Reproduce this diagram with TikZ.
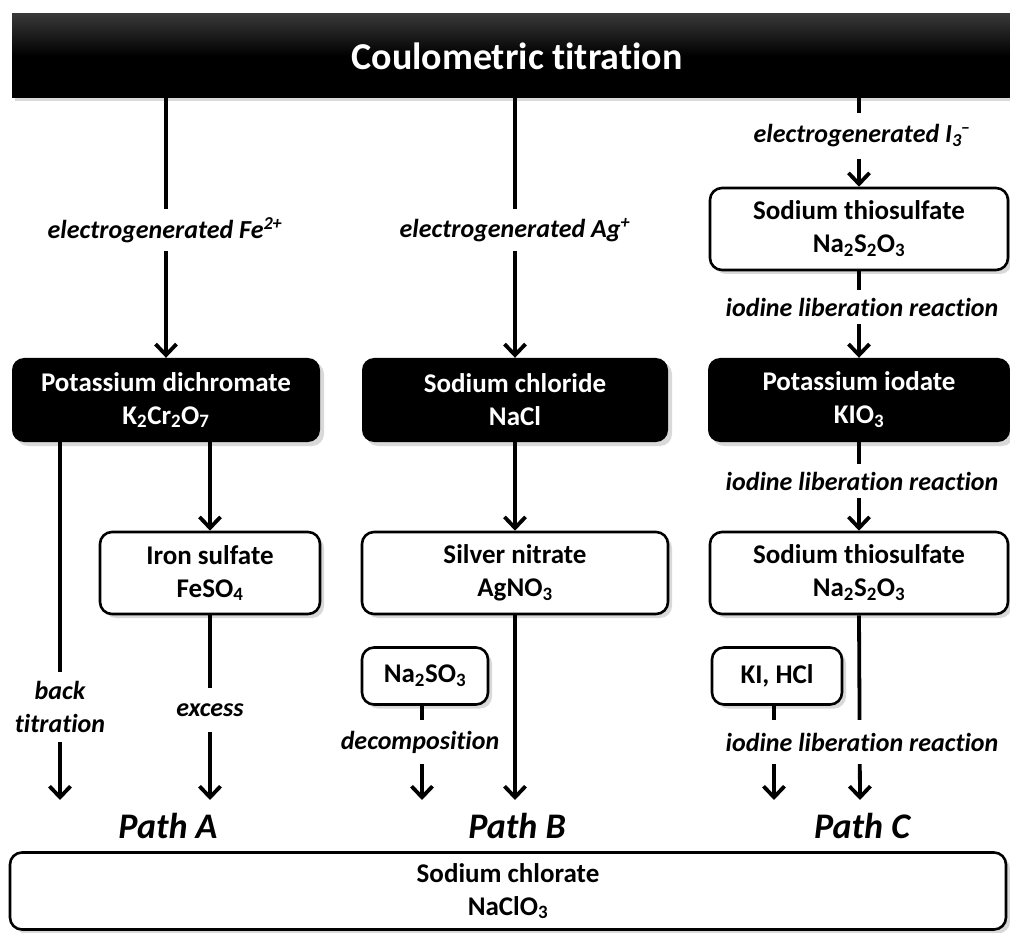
\documentclass[tikz,border=0pt]{standalone}
\usepackage{fontspec}
\setmainfont{Carlito}[Ligatures={NoCommon}]
\usepackage{tikz}
\usetikzlibrary{positioning, shapes, arrows.meta, shadows, calc}

\newcommand{\boxfont}{\fontsize{27}{33}\selectfont\bfseries}
\newcommand{\lblfont}{\fontsize{26}{33}\selectfont\bfseries\itshape}

\begin{document}
\begin{tikzpicture}[x=1pt, y=-1pt,
  darkbox/.style={rectangle, rounded corners=12pt, fill=black, text=white, inner sep=0pt, align=center, font=\boxfont, drop shadow={shadow xshift=4pt, shadow yshift=-4pt, opacity=0.3}},
  whitebox/.style={rectangle, rounded corners=12pt, draw=black, line width=2.6pt, fill=white, inner sep=0pt, align=center, font=\boxfont, drop shadow={shadow xshift=4pt, shadow yshift=-4pt, opacity=0.3}},
  arrow/.style={-{Straight Barb[length=11pt, width=21pt, line width=3.8pt]}, line width=3.8pt, black},
  lbl/.style={fill=white, inner sep=2pt, minimum height=42pt, align=center, font=\lblfont},
  pathlbl/.style={font=\fontsize{36}{40}\selectfont\bfseries\itshape}
]
\useasboundingbox (0,0) rectangle (1010,933);

% Title bar
\node[rectangle, inner sep=0pt, minimum width=1010pt, minimum height=84pt, top color=black!78, bottom color=black, middle color=black, text=white,
  font=\fontsize{38}{44}\selectfont\bfseries, drop shadow={shadow xshift=3pt, shadow yshift=-3pt, opacity=0.3}] (title) at (517,56) {Coulometric titration};

% Path A
\node[darkbox, minimum width=308pt, minimum height=84pt] (dichromate) at (166,400) {Potassium dichromate\\K\textsubscript{2}Cr\textsubscript{2}O\textsubscript{7}};
\node[whitebox, minimum width=220pt, minimum height=82pt] (iron) at (210,573) {Iron sulfate\\FeSO\textsubscript{4}};

% Path B
\node[darkbox, minimum width=306pt, minimum height=84pt] (chloride) at (515,400) {Sodium chloride\\NaCl};
\node[whitebox, minimum width=306pt, minimum height=82pt] (silver) at (515,573) {Silver nitrate\\AgNO\textsubscript{3}};
\node[whitebox, minimum width=126pt, minimum height=57pt] (sulfite) at (425,676) {Na\textsubscript{2}SO\textsubscript{3}};

% Path C
\node[whitebox, minimum width=298pt, minimum height=82pt] (thioA) at (859,229) {Sodium thiosulfate\\Na\textsubscript{2}S\textsubscript{2}O\textsubscript{3}};
\node[darkbox, minimum width=302pt, minimum height=84pt] (iodate) at (859,400) {Potassium iodate\\KIO\textsubscript{3}};
\node[whitebox, minimum width=298pt, minimum height=82pt] (thioB) at (859,573) {Sodium thiosulfate\\Na\textsubscript{2}S\textsubscript{2}O\textsubscript{3}};
\node[whitebox, minimum width=130pt, minimum height=57pt] (kihcl) at (777,676) {KI, HCl};

% Product
\node[whitebox, minimum width=996pt, minimum height=77pt] (chlorate) at (508,891) {Sodium chlorate\\NaClO\textsubscript{3}};

% Arrow ends
\coordinate (endA1) at (60,800);
\coordinate (endA2) at (210,800);
\coordinate (endB1) at (422,800);
\coordinate (endB2) at (515,800);
\coordinate (endC1) at (774,800);
\coordinate (endC2) at (860,800);

% Connectors
\draw[arrow] (dichromate.north |- title.south) -- (dichromate.north);
\draw[arrow] (chloride.north |- title.south) -- (chloride.north);
\draw[arrow] (thioA.north |- title.south) -- (thioA.north);
\draw[arrow] (thioA) -- (iodate.north);
\draw[arrow] (iodate) -- (thioB.north);
\draw[arrow] (endA1 |- dichromate.south) -- (endA1);
\draw[arrow] (iron.north |- dichromate.south) -- (iron.north);
\draw[arrow] (iron.south) -- (endA2);
\draw[arrow] (chloride) -- (silver.north);
\draw[arrow] (endB2 |- silver.south) -- (endB2);
\draw[arrow] (endB1 |- sulfite.south) -- (endB1);
\draw[arrow] (endC1 |- kihcl.south) -- (endC1);
\draw[arrow] (thioB.south) -- (endC2);

% Labels
\node[lbl] (feLbl) at (165,230) {electrogenerated Fe\textsuperscript{2+}};
\node[lbl] (agLbl) at (515,230) {electrogenerated Ag\textsuperscript{+}};
\node[lbl, minimum height=46pt] (iLbl) at (862,136) {electrogenerated I\textsubscript{3}\kern-1pt\textsuperscript{--}};
\node[lbl, minimum height=34pt] (libA) at (862,307) {iodine liberation reaction};
\node[lbl, minimum height=34pt] (libB) at (862,481) {iodine liberation reaction};
\node[lbl, minimum height=44pt] (libC) at (862,742) {iodine liberation reaction};
\node[lbl, minimum height=70pt] (backLbl) at (60,707) {back\\titration};
\node[lbl, minimum height=44pt] (excessLbl) at (210,710) {excess};
\node[lbl, minimum height=44pt] (decompLbl) at (420,742) {decomposition};

\node[pathlbl] (pathA) at (168,826) {Path A};
\node[pathlbl] (pathB) at (517,826) {Path B};
\node[pathlbl] (pathC) at (862,826) {Path C};
\end{tikzpicture}
\end{document}
